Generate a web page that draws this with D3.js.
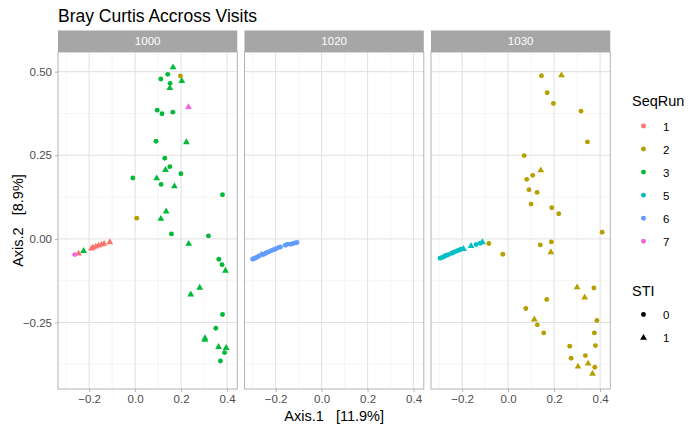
<!DOCTYPE html>
<html>
<head>
<meta charset="utf-8">
<script src="https://cdn.jsdelivr.net/npm/d3@7"></script>
<style>
  body { margin: 0; background: #fff; }
  svg { font-family: "Liberation Sans", Arial, sans-serif; }
</style>
</head>
<body>
<div id="chart"></div>
<script>
var visits = ['1000', '1020', '1030'];
var seqRuns = ['1', '2', '3', '5', '6', '7'];
var runColors = ['#F8766D', '#B79F00', '#00BA38', '#00BFC4', '#619CFF', '#F564E3'];
var stiLevels = ['0', '1'];
var xTicks = [-0.2, 0.0, 0.2, 0.4];
var xMinor = [-0.3, -0.1, 0.1, 0.3];
var yTicks = [-0.25, 0.0, 0.25, 0.50];
var yMinor = [-0.375, -0.125, 0.125, 0.375];

// [visit, seqRun, sti, axis1, axis2]
var visit1000 = [
  ['1000','3','1',0.165,0.513], ['1000','3','0',0.142,0.492], ['1000','3','0',0.112,0.478],
  ['1000','3','1',0.203,0.472], ['1000','3','0',0.152,0.465], ['1000','3','1',0.151,0.451],
  ['1000','3','0',0.096,0.385], ['1000','3','0',0.117,0.374], ['1000','3','0',0.164,0.379],
  ['1000','3','0',0.091,0.292], ['1000','3','1',0.223,0.289], ['1000','3','0',0.129,0.241],
  ['1000','3','0',0.151,0.216], ['1000','3','1',0.132,0.206], ['1000','3','0',0.199,0.195],
  ['1000','3','0',-0.010,0.182], ['1000','3','1',0.094,0.181], ['1000','3','0',0.113,0.163],
  ['1000','3','1',0.171,0.157], ['1000','3','0',0.380,0.132], ['1000','3','1',0.135,0.082],
  ['1000','3','1',0.112,0.060], ['1000','3','0',0.158,0.015], ['1000','3','0',0.319,0.009],
  ['1000','3','1',0.233,-0.015], ['1000','3','1',-0.224,-0.036], ['1000','3','0',0.364,-0.061],
  ['1000','3','0',0.378,-0.077], ['1000','3','1',0.393,-0.095], ['1000','3','1',0.281,-0.146],
  ['1000','3','1',0.242,-0.166], ['1000','3','0',0.380,-0.226], ['1000','3','0',0.351,-0.267],
  ['1000','3','1',0.304,-0.297], ['1000','3','1',0.303,-0.302], ['1000','3','1',0.363,-0.323],
  ['1000','3','1',0.396,-0.326], ['1000','3','0',0.389,-0.340], ['1000','3','0',0.371,-0.365],
  ['1000','2','0',0.197,0.487], ['1000','2','0',0.007,0.062],
  ['1000','1','1',-0.246,-0.044], ['1000','1','1',-0.190,-0.029], ['1000','1','1',-0.183,-0.026],
  ['1000','1','1',-0.171,-0.023], ['1000','1','1',-0.159,-0.020], ['1000','1','1',-0.146,-0.017],
  ['1000','1','1',-0.135,-0.015], ['1000','1','1',-0.110,-0.010],
  ['1000','7','1',0.232,0.394], ['1000','7','0',-0.263,-0.047]
];

var visit1020 = [
  ['1020','6','0',-0.300,-0.061], ['1020','6','0',-0.293,-0.058], ['1020','6','0',-0.287,-0.057],
  ['1020','6','0',-0.279,-0.054], ['1020','6','0',-0.272,-0.051], ['1020','6','1',-0.262,-0.047],
  ['1020','6','0',-0.257,-0.047], ['1020','6','0',-0.249,-0.045], ['1020','6','0',-0.242,-0.042],
  ['1020','6','0',-0.235,-0.040], ['1020','6','0',-0.227,-0.038], ['1020','6','0',-0.219,-0.035],
  ['1020','6','0',-0.211,-0.033], ['1020','6','0',-0.204,-0.031], ['1020','6','0',-0.196,-0.029],
  ['1020','6','0',-0.188,-0.026], ['1020','6','0',-0.179,-0.024], ['1020','6','0',-0.158,-0.019],
  ['1020','6','0',-0.148,-0.016], ['1020','6','0',-0.134,-0.016], ['1020','6','0',-0.124,-0.014],
  ['1020','6','0',-0.115,-0.012], ['1020','6','0',-0.107,-0.011]
];

var visit1030 = [
  ['1030','2','0',0.145,0.488], ['1030','2','1',0.232,0.489], ['1030','2','0',0.170,0.437],
  ['1030','2','0',0.197,0.405], ['1030','2','0',0.317,0.382], ['1030','2','0',0.345,0.290],
  ['1030','2','0',0.070,0.249], ['1030','2','1',0.142,0.205], ['1030','2','0',0.107,0.190],
  ['1030','2','0',0.081,0.178], ['1030','2','0',0.091,0.147], ['1030','2','0',0.126,0.139],
  ['1030','2','0',0.100,0.104], ['1030','2','0',0.190,0.093], ['1030','2','0',0.220,0.075],
  ['1030','2','0',0.409,0.020], ['1030','2','0',-0.084,-0.014], ['1030','2','0',0.140,-0.018],
  ['1030','2','0',0.188,-0.009], ['1030','2','1',0.186,-0.040], ['1030','2','0',-0.023,-0.046],
  ['1030','2','1',0.300,-0.145], ['1030','2','0',0.373,-0.147], ['1030','2','1',0.333,-0.175],
  ['1030','2','0',0.168,-0.181], ['1030','2','0',0.077,-0.208], ['1030','2','1',0.114,-0.241],
  ['1030','2','0',0.386,-0.244], ['1030','2','0',0.127,-0.257], ['1030','2','0',0.155,-0.281],
  ['1030','2','0',0.375,-0.281], ['1030','2','0',0.380,-0.319], ['1030','2','0',0.268,-0.321],
  ['1030','2','0',0.336,-0.349], ['1030','2','0',0.274,-0.357], ['1030','2','1',0.348,-0.373],
  ['1030','2','1',0.304,-0.382], ['1030','2','0',0.377,-0.384], ['1030','2','1',0.367,-0.403],
  ['1030','5','0',-0.296,-0.058], ['1030','5','0',-0.289,-0.056], ['1030','5','0',-0.282,-0.054],
  ['1030','5','0',-0.275,-0.051], ['1030','5','0',-0.267,-0.049], ['1030','5','0',-0.259,-0.047],
  ['1030','5','0',-0.245,-0.043], ['1030','5','0',-0.236,-0.040], ['1030','5','0',-0.228,-0.038],
  ['1030','5','0',-0.220,-0.035], ['1030','5','0',-0.212,-0.033], ['1030','5','0',-0.204,-0.031],
  ['1030','5','1',-0.194,-0.030], ['1030','5','1',-0.161,-0.021], ['1030','5','0',-0.139,-0.017],
  ['1030','5','0',-0.121,-0.013], ['1030','5','1',-0.112,-0.010]
];

var points = visit1000.concat(visit1020, visit1030).map(function(d) {
  return { visit: d[0], run: d[1], sti: d[2], x: d[3], y: d[4] };
});

var width = 700, height = 432;
var panelLeft = 58, panelW = 179.3, panelGap = 7.2;
var stripTop = 30.5, stripH = 21.5;
var panelTop = stripTop + stripH, panelBottom = 389;

var svg = d3.select('#chart').append('svg')
  .attr('width', width)
  .attr('height', height);

// data range with ggplot style 5% expansion
var xExt = d3.extent(points, function(d) { return d.x; });
var yExt = d3.extent(points, function(d) { return d.y; });
var xPad = (xExt[1] - xExt[0]) * 0.05, yPad = (yExt[1] - yExt[0]) * 0.05;

var y = d3.scaleLinear()
  .domain([yExt[0] - yPad, yExt[1] + yPad])
  .range([panelBottom, panelTop]);

var color = d3.scaleOrdinal().domain(seqRuns).range(runColors);
var shape = d3.scaleOrdinal().domain(stiLevels).range([d3.symbolCircle, d3.symbolTriangle]);
var shapeSize = d3.scaleOrdinal().domain(stiLevels).range([19, 20]);

var symbolPath = function(d) {
  return d3.symbol().type(shape(d.sti)).size(shapeSize(d.sti))();
};

visits.forEach(function(v, i) {
  var left = panelLeft + i * (panelW + panelGap);
  var x = d3.scaleLinear()
    .domain([xExt[0] - xPad, xExt[1] + xPad])
    .range([left, left + panelW]);

  var g = svg.append('g');

  // minor grid
  g.selectAll('.vminor').data(xMinor).enter().append('line')
    .attr('x1', function(d) { return x(d); }).attr('x2', function(d) { return x(d); })
    .attr('y1', panelTop).attr('y2', panelBottom)
    .attr('stroke', '#EBEBEB').attr('stroke-width', 0.5);
  g.selectAll('.hminor').data(yMinor).enter().append('line')
    .attr('x1', left).attr('x2', left + panelW)
    .attr('y1', function(d) { return y(d); }).attr('y2', function(d) { return y(d); })
    .attr('stroke', '#EBEBEB').attr('stroke-width', 0.5);
  // major grid
  g.selectAll('.vmajor').data(xTicks).enter().append('line')
    .attr('x1', function(d) { return x(d); }).attr('x2', function(d) { return x(d); })
    .attr('y1', panelTop).attr('y2', panelBottom)
    .attr('stroke', '#E0E0E0').attr('stroke-width', 1);
  g.selectAll('.hmajor').data(yTicks).enter().append('line')
    .attr('x1', left).attr('x2', left + panelW)
    .attr('y1', function(d) { return y(d); }).attr('y2', function(d) { return y(d); })
    .attr('stroke', '#E0E0E0').attr('stroke-width', 1);

  // points
  g.selectAll('.pt').data(points.filter(function(d) { return d.visit === v; }))
    .enter().append('path')
    .attr('d', symbolPath)
    .attr('transform', function(d) { return 'translate(' + x(d.x) + ',' + y(d.y) + ')'; })
    .attr('fill', function(d) { return color(d.run); });

  // border
  g.append('rect')
    .attr('x', left).attr('y', panelTop)
    .attr('width', panelW).attr('height', panelBottom - panelTop)
    .attr('fill', 'none').attr('stroke', '#B3B3B3').attr('stroke-width', 1);

  // strip
  g.append('rect')
    .attr('x', left).attr('y', stripTop)
    .attr('width', panelW).attr('height', stripH)
    .attr('fill', '#A6A6A6');
  g.append('text')
    .attr('x', left + panelW / 2).attr('y', stripTop + stripH / 2 + 4)
    .attr('text-anchor', 'middle')
    .attr('fill', '#fff').attr('font-size', 11.5)
    .text(v);

  // x axis
  var xAxis = d3.axisBottom(x).tickValues(xTicks).tickSize(3).tickPadding(3)
    .tickFormat(d3.format('.1f'));
  var ax = g.append('g').attr('transform', 'translate(0,' + panelBottom + ')').call(xAxis);
  ax.select('.domain').remove();
  ax.selectAll('line').attr('stroke', '#B3B3B3');
  ax.selectAll('text').attr('fill', '#4D4D4D').attr('font-size', 11.5)
    .attr('font-family', '"Liberation Sans", Arial, sans-serif')
    .text(function(d) { return d === 0 ? '0.0' : d3.format('.1f')(d); });
});

// y axis
var yAxis = d3.axisLeft(y).tickValues(yTicks).tickSize(3).tickPadding(3)
  .tickFormat(d3.format('.2f'));
var ay = svg.append('g').attr('transform', 'translate(' + panelLeft + ',0)').call(yAxis);
ay.select('.domain').remove();
ay.selectAll('line').attr('stroke', '#B3B3B3');
ay.selectAll('text').attr('fill', '#4D4D4D').attr('font-size', 11.5)
  .attr('font-family', '"Liberation Sans", Arial, sans-serif');

// titles
svg.append('text')
  .attr('x', 58).attr('y', 22)
  .attr('font-size', 17.5).attr('fill', '#000')
  .text('Bray Curtis Accross Visits');

var plotRight = panelLeft + 3 * panelW + 2 * panelGap;
svg.append('text')
  .attr('x', (panelLeft + plotRight) / 2).attr('y', 421)
  .attr('text-anchor', 'middle')
  .attr('font-size', 14.5).attr('fill', '#000')
  .style('white-space', 'pre')
  .text('Axis.1   [11.9%]');

svg.append('text')
  .attr('transform', 'translate(23,' + ((panelTop + panelBottom) / 2) + ') rotate(-90)')
  .attr('text-anchor', 'middle')
  .attr('font-size', 14.5).attr('fill', '#000')
  .style('white-space', 'pre')
  .text('Axis.2   [8.9%]');

// legends
var legend = svg.append('g').attr('transform', 'translate(632,0)');
legend.append('text').attr('x', 0).attr('y', 106)
  .attr('font-size', 14.5).attr('fill', '#000').text('SeqRun');
var runItems = legend.selectAll('.run').data(seqRuns).enter().append('g')
  .attr('transform', function(d, i) { return 'translate(0,' + (126 + i * 23.05) + ')'; });
runItems.append('path')
  .attr('d', d3.symbol().type(d3.symbolCircle).size(19)())
  .attr('transform', 'translate(11.5,0)')
  .attr('fill', function(d) { return color(d); });
runItems.append('text').attr('x', 31).attr('y', 4.5)
  .attr('font-size', 11.5).attr('fill', '#000').text(function(d) { return d; });

legend.append('text').attr('x', 0).attr('y', 296)
  .attr('font-size', 14.5).attr('fill', '#000').text('STI');
var stiItems = legend.selectAll('.sti').data(stiLevels).enter().append('g')
  .attr('transform', function(d, i) { return 'translate(0,' + (314.5 + i * 23.3) + ')'; });
stiItems.append('path')
  .attr('d', function(d) { return d3.symbol().type(shape(d)).size(shapeSize(d))(); })
  .attr('transform', 'translate(11.5,0)')
  .attr('fill', '#000');
stiItems.append('text').attr('x', 31).attr('y', 4.5)
  .attr('font-size', 11.5).attr('fill', '#000').text(function(d) { return d; });
</script>
</body>
</html>
